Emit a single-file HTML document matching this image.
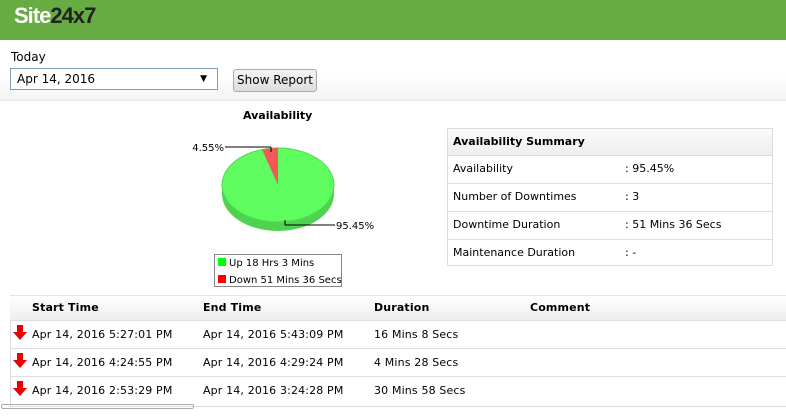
<!DOCTYPE html>
<html><head><style>
body{margin:0;width:786px;height:417px;overflow:hidden;background:#fff;font-family:"DejaVu Sans","Liberation Sans",sans-serif;font-size:11px;color:#000;position:relative}
.a{position:absolute}
.hdr{left:0;top:0;width:786px;height:40px;background:#67ab43}
.logo{left:14px;top:3px;font-family:"Liberation Sans",sans-serif;font-weight:bold;font-size:22px;letter-spacing:-1px;color:#fff}
.logo span{color:#222}
.sel{left:10px;top:68px;width:208px;height:22px;border:1px solid #7f9db9;box-sizing:border-box;font-size:12px;line-height:20px;padding-left:6px}
.btn{left:233px;top:69px;width:84px;height:23px;border:1px solid #aaa;border-radius:3px;background:linear-gradient(#f4f4f4,#ddd);box-sizing:border-box;font-size:12px;line-height:21px;text-align:center}
.sum{left:447px;top:128px;width:326px;height:138px;border:1px solid #ddd;box-sizing:border-box}
.sum div{height:28px;border-top:1px solid #ddd;box-sizing:border-box;line-height:26px;padding-left:5px;position:relative}
.sum div b{position:absolute;left:177px;font-weight:normal}
.row{left:10px;width:776px;height:28px;border-top:1px solid #ddd;box-sizing:border-box;line-height:27px;letter-spacing:0.15px}
.row span{position:absolute}
</style></head><body>
<div class="a hdr"></div>
<div class="a logo">Site<span>24x7</span></div>
<div class="a" style="left:0;top:40px;width:786px;height:60px;background:linear-gradient(#fff 60%,#f3f3f3);border-bottom:1px solid #e4e4e4"></div>
<div class="a" style="left:11px;top:50px;font-size:12px">Today</div>
<div class="a sel" style="background:#fff">Apr 14, 2016<span style="position:absolute;right:10px;top:0;font-size:9px">▼</span></div>
<div class="a btn">Show Report</div>
<div class="a" style="left:243px;top:109px;font-weight:bold;font-size:11px">Availability</div>
<svg class="a" style="left:170px;top:130px" width="220" height="160">
<path d="M52,55 A56,37 0 0 0 164,55 L164,64 A56,37 0 0 1 52,64 Z" fill="#4fd24f"/>
<ellipse cx="108" cy="55" rx="56" ry="37" fill="#5efc5e" stroke="#52d852" stroke-width="1"/>
<path d="M108,55 L108,18 A56,37 0 0 0 92,19.5 Z" fill="#f25a5a"/>
<line x1="55" y1="17" x2="101" y2="17" stroke="#000"/>
<line x1="101" y1="17" x2="101" y2="22" stroke="#000"/>
<line x1="115" y1="95" x2="165" y2="95" stroke="#000"/>
<line x1="115" y1="90" x2="115" y2="95" stroke="#000"/>
<text x="54" y="21" font-size="10" font-family="DejaVu Sans" text-anchor="end">4.55%</text>
<text x="166" y="99" font-size="10" font-family="DejaVu Sans">95.45%</text>
<rect x="44.5" y="124.5" width="127" height="32" fill="#fff" stroke="#888"/>
<rect x="48" y="128" width="8" height="8" fill="#0f0"/>
<rect x="48" y="145" width="8" height="8" fill="#f00"/>
<text x="59" y="136" font-size="10" font-family="DejaVu Sans">Up 18 Hrs 3 Mins</text>
<text x="59" y="153" font-size="10" font-family="DejaVu Sans">Down 51 Mins 36 Secs</text>
</svg>
<div class="a sum">
<div style="border-top:0;height:26px;background:linear-gradient(#fbfbfb,#eee);font-weight:bold">Availability Summary</div>
<div>Availability<b>: 95.45%</b></div>
<div>Number of Downtimes<b>: 3</b></div>
<div>Downtime Duration<b>: 51 Mins 36 Secs</b></div>
<div>Maintenance Duration<b>: -</b></div>
</div>
<div class="a" style="left:10px;top:295px;width:776px;height:110px;border-left:1px solid #ddd;border-top:1px solid #e4e4e4;border-bottom:1px solid #ddd"></div>
<div class="a row" style="top:296px;border-top:0;height:24px;line-height:24px;background:linear-gradient(#fff,#eee);font-weight:bold"><span style="left:22px">Start Time</span><span style="left:193px">End Time</span><span style="left:364px">Duration</span><span style="left:520px">Comment</span></div>
<div class="a row" style="top:320px"><span style="left:22px">Apr 14, 2016 5:27:01 PM</span><span style="left:193px">Apr 14, 2016 5:43:09 PM</span><span style="left:364px">16 Mins 8 Secs</span></div>
<div class="a row" style="top:348px"><span style="left:22px">Apr 14, 2016 4:24:55 PM</span><span style="left:193px">Apr 14, 2016 4:29:24 PM</span><span style="left:364px">4 Mins 28 Secs</span></div>
<div class="a row" style="top:376px"><span style="left:22px">Apr 14, 2016 2:53:29 PM</span><span style="left:193px">Apr 14, 2016 3:24:28 PM</span><span style="left:364px">30 Mins 58 Secs</span></div>
<svg class="a" style="left:13px;top:325px" width="16" height="80">
<path d="M4,0h6v7h4l-7,8l-7,-8h4z" fill="#e00"/>
<path d="M4,28h6v7h4l-7,8l-7,-8h4z" fill="#e00"/>
<path d="M4,56h6v7h4l-7,8l-7,-8h4z" fill="#e00"/>
</svg>
<div class="a" style="left:1px;top:404px;width:191px;height:3px;border:1px solid #aaa;border-radius:2px"></div>
</body></html>
